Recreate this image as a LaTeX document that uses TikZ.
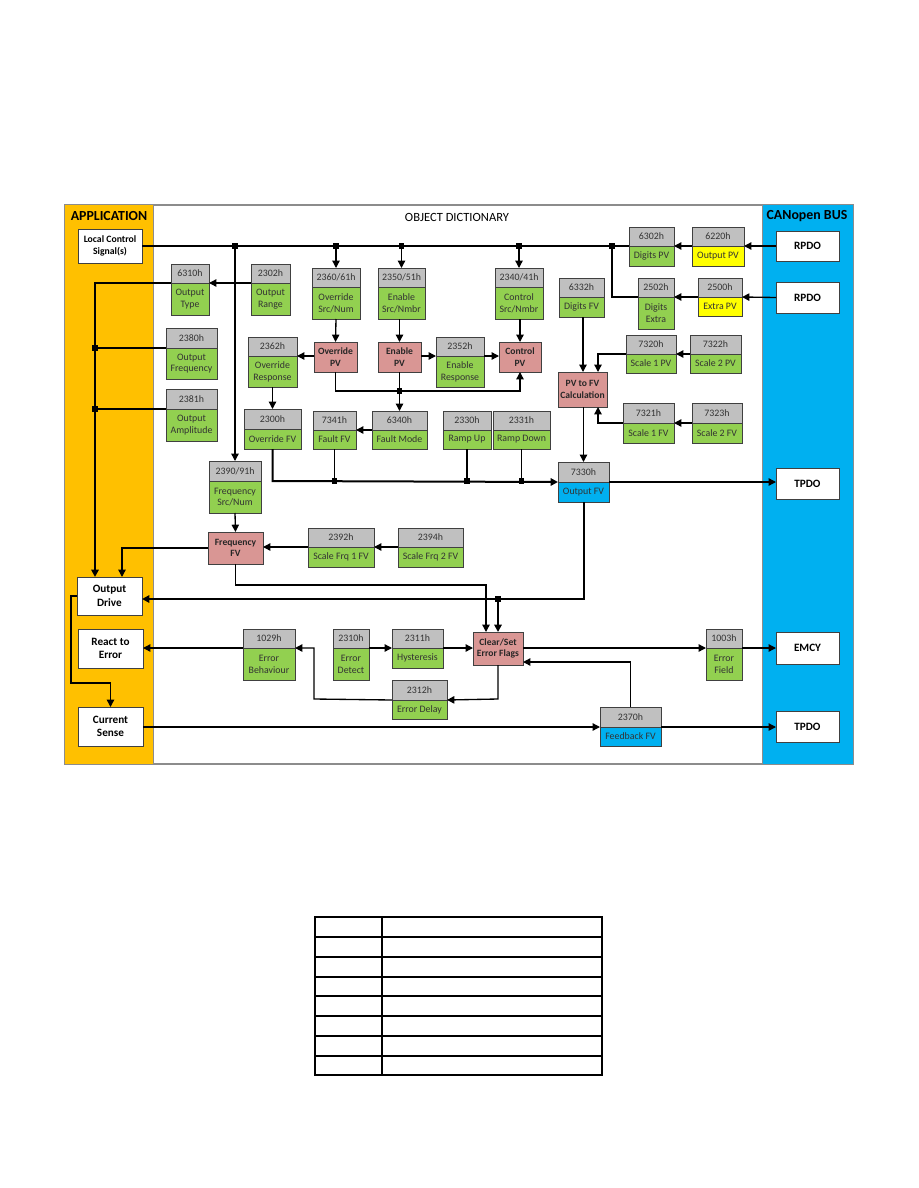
\documentclass[tikz,border=0pt]{standalone}
\usepackage{fontspec}
\setmainfont{Carlito}
\usetikzlibrary{arrows.meta}
\definecolor{appor}{HTML}{FFC000}
\definecolor{busbl}{HTML}{00B0F0}
\definecolor{grn}{HTML}{92D050}
\definecolor{pnk}{HTML}{D99694}
\definecolor{ylw}{HTML}{FFFF00}
\definecolor{hgr}{HTML}{C0C0C0}
\newcommand\objbox[9]{%
 \node[hdr,minimum width={(#4-#2)*0.75pt},minimum height={(#5-#3)*0.75pt}] (#1h) at ({(#2+#4)/2},{(#3+#5)/2}) {#7};
 \node[bod,fill=#9,minimum width={(#4-#2)*0.75pt},minimum height={(#6-#5)*0.75pt}] (#1) at ({(#2+#4)/2},{(#5+#6)/2}) {#8};}
\newcommand\plainbox[7]{%
 \node[#7,minimum width={(#4-#2)*0.75pt},minimum height={(#5-#3)*0.75pt}] (#1) at ({(#2+#4)/2},{(#3+#5)/2}) {#6};}
\newcommand\jdot[1]{\fill (#1) +(-2.6,-2.6) rectangle +(2.6,2.6);}
\tikzset{
 hdr/.style={draw=black!75,fill=hgr,line width=0.6pt,inner sep=0pt,outer sep=0pt,font=\fontsize{7.4}{8.4}\selectfont,text=black!80,align=center},
 bod/.style={draw=black!75,line width=0.6pt,inner sep=0pt,outer sep=0pt,font=\fontsize{7.4}{8.8}\selectfont,text=black!80,align=center},
 wbox/.style={draw=black!75,fill=white,line width=0.6pt,inner sep=0pt,outer sep=0pt,font=\fontsize{8.4}{10}\selectfont\bfseries,align=center},
 lcsbox/.style={wbox,font=\fontsize{7.3}{9}\selectfont\bfseries},
 pbox/.style={draw=black!75,fill=pnk,line width=0.6pt,inner sep=0pt,outer sep=0pt,font=\fontsize{7.2}{8.6}\selectfont\bfseries,text=black!85,align=center},
 ln/.style={line width=1pt},
 tk/.style={line width=1.5pt},
 arr/.style={-{Triangle[length=5.5pt,width=5.5pt]}}
}
\begin{document}
\begin{tikzpicture}[x=0.75pt,y=-0.75pt]
\useasboundingbox (0,0) rectangle (918,1188);
\fill[white] (0,0) rectangle (918,1188);
% frame and bands
\draw[black!45,line width=0.8pt] (65,205) rectangle (853,764);
\fill[appor] (65,205) rectangle (153,764);
\draw[black!45,line width=0.6pt] (153,205) -- (153,764);
\fill[busbl] (762,205) rectangle (853,764);
\draw[black!45,line width=0.6pt] (762,205) -- (762,764);
\node[font=\fontsize{10.4}{12}\selectfont\bfseries] (tapp) at (109,216) {APPLICATION};
\node[font=\fontsize{9.4}{11}\selectfont] (tod) at (457,217) {OBJECT DICTIONARY};
\node[font=\fontsize{10.4}{12}\selectfont\bfseries] (tbus) at (807,216) {CANopen BUS};
% white boxes
\plainbox{lcs}{78}{229}{142}{263}{Local Control\\Signal(s)}{lcsbox}
\plainbox{outdrive}{77}{577}{142}{615}{Output\\Drive}{wbox}
\plainbox{react}{78}{629}{143}{668}{React to\\Error}{wbox}
\plainbox{cursense}{78}{707}{143}{746}{Current\\Sense}{wbox}
\plainbox{rpdoa}{776}{231}{839}{261}{RPDO}{wbox}
\plainbox{rpdob}{776}{282}{839}{313}{RPDO}{wbox}
\plainbox{tpdoa}{776}{468}{839}{499}{TPDO}{wbox}
\plainbox{emcy}{776}{632}{839}{664}{EMCY}{wbox}
\plainbox{tpdob}{776}{711}{839}{742}{TPDO}{wbox}
% pink boxes
\plainbox{ovpv}{314}{342}{357}{372}{Override\\PV}{pbox}
\plainbox{enpv}{378}{342}{421}{372}{Enable\\PV}{pbox}
\plainbox{ctpv}{499}{342}{541}{372}{Control\\PV}{pbox}
\plainbox{pvfv}{558}{372}{607}{407}{PV to FV\\Calculation}{pbox}
\plainbox{frfv}{208}{532}{263}{564}{Frequency\\FV}{pbox}
\plainbox{clr}{473}{632}{523}{665}{Clear/Set\\Error Flags}{pbox}
% object boxes
\objbox{n6302}{629}{227}{674}{246}{266}{6302h}{Digits PV}{grn}
\objbox{n6220}{692}{227}{744}{246}{266}{6220h}{Output PV}{ylw}
\objbox{n2502}{638}{278}{674}{297}{329}{2502h}{Digits\\Extra}{grn}
\objbox{n2500}{698}{278}{742}{297}{316}{2500h}{Extra PV}{ylw}
\objbox{n6332}{559}{278}{604}{297}{317}{6332h}{Digits FV}{grn}
\objbox{n7320}{626}{335}{676}{354}{373}{7320h}{Scale 1 PV}{grn}
\objbox{n7322}{690}{335}{741}{354}{373}{7322h}{Scale 2 PV}{grn}
\objbox{n7321}{623}{403}{674}{423}{443}{7321h}{Scale 1 FV}{grn}
\objbox{n7323}{692}{403}{742}{423}{443}{7323h}{Scale 2 FV}{grn}
\objbox{n7330}{558}{462}{609}{482}{502}{7330h}{Output FV}{busbl}
\objbox{n6310}{171}{264}{209}{283}{315}{6310h}{Output\\Type}{grn}
\objbox{n2302}{251}{264}{290}{283}{315}{2302h}{Output\\Range}{grn}
\objbox{n2380}{166}{328}{217}{348}{379}{2380h}{Output\\Frequency}{grn}
\objbox{n2381}{166}{389}{217}{409}{441}{2381h}{Output\\Amplitude}{grn}
\objbox{n2360}{312}{268}{360}{287}{319}{2360/61h}{Override\\Src/Num}{grn}
\objbox{n2350}{378}{268}{425}{287}{319}{2350/51h}{Enable\\Src/Nmbr}{grn}
\objbox{n2340}{495}{268}{543}{287}{319}{2340/41h}{Control\\Src/Nmbr}{grn}
\objbox{n2352}{436}{337}{484}{356}{387}{2352h}{Enable\\Response}{grn}
\objbox{n2362}{248}{337}{297}{356}{387}{2362h}{Override\\Response}{grn}
\objbox{n2300}{244}{409}{301}{429}{449}{2300h}{Override FV}{grn}
\objbox{n7341}{313}{411}{356}{430}{449}{7341h}{Fault FV}{grn}
\objbox{n6340}{372}{411}{427}{430}{449}{6340h}{Fault Mode}{grn}
\objbox{n2330}{443}{411}{491}{430}{449}{2330h}{Ramp Up}{grn}
\objbox{n2331}{493}{411}{550}{430}{449}{2331h}{Ramp Down}{grn}
\objbox{n2390}{209}{461}{261}{481}{513}{2390/91h}{Frequency\\Src/Num}{grn}
\objbox{n2392}{308}{528}{374}{547}{567}{2392h}{Scale Frq 1 FV}{grn}
\objbox{n2394}{398}{528}{463}{547}{567}{2394h}{Scale Frq 2 FV}{grn}
\objbox{n1029}{243}{629}{295}{648}{680}{1029h}{Error\\Behaviour}{grn}
\objbox{n2310}{333}{629}{369}{648}{680}{2310h}{Error\\Detect}{grn}
\objbox{n2311}{392}{629}{443}{648}{668}{2311h}{Hysteresis}{grn}
\objbox{n2312}{392}{680}{447}{700}{719}{2312h}{Error Delay}{grn}
\objbox{n1003}{706}{629}{742}{648}{680}{1003h}{Error\\Field}{grn}
\objbox{n2370}{600}{707}{661}{727}{746}{2370h}{Feedback FV}{busbl}
% junction coordinates
\coordinate (j1) at (n2390h.north |- lcs.east);
\coordinate (j2) at (n2360h.north |- lcs.east);
\coordinate (j3) at (n2350h.north |- lcs.east);
\coordinate (j4) at (n2340h.north |- lcs.east);
\coordinate (j5) at (612,246);
\coordinate (c2502) at (612,297);
\coordinate (jen) at (enpv.south |- 0,391);
\coordinate (cov) at (ovpv.south |- 0,391);
\coordinate (cct) at (ctpv.south |- 0,391);
\coordinate (cf1) at (n2300.south |- 0,481);
\coordinate (jf1) at (n7341.south |- 0,481);
\coordinate (jf2) at (n2330.south |- 0,481);
\coordinate (jf3) at (n2331.south |- 0,481);
\coordinate (cs1) at (598,354);
\coordinate (cs2) at (598,423);
\coordinate (co1) at (n7330.south |- 0,599);
\coordinate (jo1) at (clr.north |- 0,599);
\coordinate (cl1) at (95,283);
\coordinate (jl1) at (95,348);
\coordinate (jl2) at (95,409);
\coordinate (cfr1) at (122,548);
\coordinate (cfr2) at (frfv.south |- 0,585);
\coordinate (cfr3) at (486,585);
\coordinate (cod1) at (71,596);
\coordinate (cod2) at (71,683);
\coordinate (cod3) at (cursense.north |- 0,683);
\coordinate (ce1) at (clr.south |- 0,699);
\coordinate (ce2) at (314,699);
\coordinate (ce3) at (314,648);
\coordinate (cfb) at (n2370h.north |- 0,662);
% top bus
\draw[ln] (lcs.east) -- (n6302.north west);
\draw[ln,arr] (rpdoa.west) -- (n6220.north east);
\draw[ln,arr] (n6220.north west) -- (n6302.north east);
\draw[ln,arr] (rpdob.west) -- (n2500.north east);
\draw[ln,arr] (n2500.north west) -- (n2502.north east);
\draw[ln] (n2502.north west) -- (c2502) -- (j5);
\draw[ln,arr] (j2) -- (n2360h.north);
\draw[ln,arr] (j3) -- (n2350h.north);
\draw[ln,arr] (j4) -- (n2340h.north);
\draw[ln,arr] (j1) -- (n2390h.north);
% PV chain
\draw[ln,arr] (n2360.south) -- (ovpv.north);
\draw[ln,arr] (n2350.south -| enpv.north) -- (enpv.north);
\draw[ln,arr] (n2340.south -| ctpv.north) -- (ctpv.north);
\draw[ln,arr] (ovpv.west |- n2362.north east) -- (n2362.north east);
\draw[ln,arr] (enpv.east |- n2352.north west) -- (n2352.north west);
\draw[ln,arr] (n2352.north east) -- (ctpv.west |- n2352.north east);
\draw[ln,arr] (ovpv.south) -- (cov) -- (cct) -- (ctpv.south);
\draw[ln,arr] (enpv.south) -- (n6340h.north -| enpv.south);
\draw[ln,arr] (n2362.south) -- (n2300h.north);
\draw[ln,arr] (n6340.north west) -- (n7341.north east);
% fv bus
\draw[tk,arr] (n2300.south) -- (cf1) -- (n7330.north west);
\draw[ln] (n7341.south) -- (jf1);
\draw[ln] (n2330.south) -- (jf2);
\draw[ln] (n2331.south) -- (jf3);
% PV to FV
\draw[ln,arr] (n6332.south -| 583,0) -- (pvfv.north -| 583,0);
\draw[ln,arr] (n7320.north west) -- (cs1) -- (pvfv.north -| cs1);
\draw[ln,arr] (n7322.north west) -- (n7320.north east);
\draw[ln,arr] (n7323.north west) -- (n7321.north east);
\draw[ln,arr] (n7321.north west) -- (cs2) -- (pvfv.south -| cs2);
\draw[ln,arr] (pvfv.south -| n7330h.north) -- (n7330h.north);
\draw[ln,arr] (n7330.north east) -- (tpdoa.west |- n7330.north east);
\draw[tk,arr] (n7330.south) -- (co1) -- (outdrive.east |- co1);
\draw[tk,arr] (jo1) -- (clr.north);
% left column
\draw[ln,arr] (n2302.north west) -- (n6310.north east);
\draw[tk,arr] (n6310.north west) -- (cl1) -- (outdrive.north -| cl1);
\draw[ln] (n2380.north west) -- (jl1);
\draw[ln] (n2381.north west) -- (jl2);
% frequency
\draw[ln,arr] (n2390.south) -- (frfv.north);
\draw[ln,arr] (n2394.north west) -- (n2392.north east);
\draw[ln,arr] (n2392.north west) -- (frfv.east |- n2392.north west);
\draw[ln,arr] (frfv.west |- cfr1) -- (cfr1) -- (outdrive.north -| cfr1);
\draw[ln,arr] (frfv.south) -- (cfr2) -- (cfr3) -- (clr.north -| cfr3);
% bottom
\draw[ln,arr] (outdrive.west |- cod1) -- (cod1) -- (cod2) -- (cod3) -- (cursense.north);
\draw[ln,arr] (n1029.north west) -- (react.east |- n1029.north west);
\draw[ln,arr] (n2310.north east) -- (n2311.north west);
\draw[ln,arr] (n2311.north east) -- (clr.west |- n2311.north east);
\draw[ln,arr] (clr.east |- n1003.north west) -- (n1003.north west);
\draw[ln,arr] (n1003.north east) -- (emcy.west |- n1003.north east);
\draw[ln,arr] (clr.south) -- (ce1) -- (n2312.north east);
\draw[ln,arr] (n2312.north west) -- (ce2) -- (ce3) -- (n1029.north east);
\draw[ln,arr] (n2370h.north) -- (cfb) -- (clr.east |- cfb);
\draw[ln,arr] (cursense.east |- n2370.north west) -- (n2370.north west);
\draw[ln,arr] (n2370.north east) -- (tpdob.west |- n2370.north east);
% junction dots
\jdot{j1}\jdot{j2}\jdot{j3}\jdot{j4}\jdot{j5}
\jdot{jen}\jdot{jf1}\jdot{jf2}\jdot{jf3}\jdot{jo1}\jdot{jl1}\jdot{jl2}
% table
\draw[line width=1pt] (315,917) rectangle (602,1075);
\draw[line width=1pt] (382,917) -- (382,1075);
\foreach \yy in {937,957,977,996,1016,1036,1056}{\draw[line width=1pt] (315,\yy) -- (602,\yy);}
\end{tikzpicture}
\end{document}
